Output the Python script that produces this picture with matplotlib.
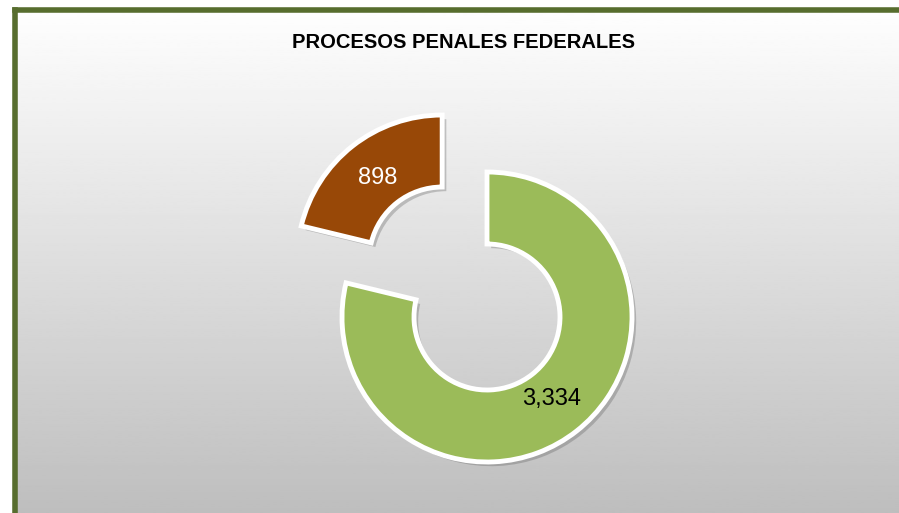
import numpy as np
import matplotlib
matplotlib.use('Agg')
import matplotlib.pyplot as plt
from matplotlib import patheffects as pe

plt.rcParams['font.family'] = ['Liberation Sans', 'DejaVu Sans']

# data
categories = ['Procesos A', 'Procesos B']
values = [3334, 898]
colors = ['#9bbb59', '#984807']
label_colors = ['black', 'white']
title = 'PROCESOS PENALES FEDERALES'

W, H = 899, 513
R = 145
fig = plt.figure(figsize=(W / 100, H / 100), dpi=100)
fig.patch.set_facecolor('white')
ax = fig.add_axes([0, 0, 1, 1])
ax.set_xlim(0, W)
ax.set_ylim(0, H)
ax.axis('off')

# gradient background inside the frame
grad = np.linspace(0.996, 0.745, 256).reshape(-1, 1)
ax.imshow(grad, cmap='gray', vmin=0, vmax=1, extent=[15, W, 0, H - 10],
          aspect='auto', zorder=0)

# olive frame (left and top only visible)
ax.plot([14.5, 14.5], [0, H - 9.5], color='#576d2e', lw=4, solid_capstyle='projecting', zorder=1)
ax.plot([14.5, W], [H - 9.5, H - 9.5], color='#576d2e', lw=4, solid_capstyle='projecting', zorder=1)

total = sum(values)
# explode is in data units (pixels here)
wedges, texts, autotexts = ax.pie(
    values, colors=colors, startangle=90, counterclock=False,
    center=(487, H - 317), radius=R, explode=[0, 0.5 * R],
    autopct=lambda p: f'{p * total / 100:,.0f}', pctdistance=0.72,
    wedgeprops=dict(width=72, edgecolor='white', linewidth=3.5),
    textprops=dict(fontsize=17), frame=True)
ax.set_xlim(0, W)
ax.set_ylim(0, H)
ax.axis('off')

for w in wedges:
    w.set_zorder(3)
    w.set_path_effects([pe.SimplePatchShadow(offset=(3, -3), shadow_rgbFace='#555555', alpha=0.3),
                        pe.Normal()])
for t, c in zip(autotexts, label_colors):
    t.set_color(c)
    t.set_zorder(4)

ax.text(463, H - 42, title, ha='center', va='center', fontsize=14.5,
        fontweight='bold', color='black', zorder=4)

fig.savefig('out.png', dpi=100)
